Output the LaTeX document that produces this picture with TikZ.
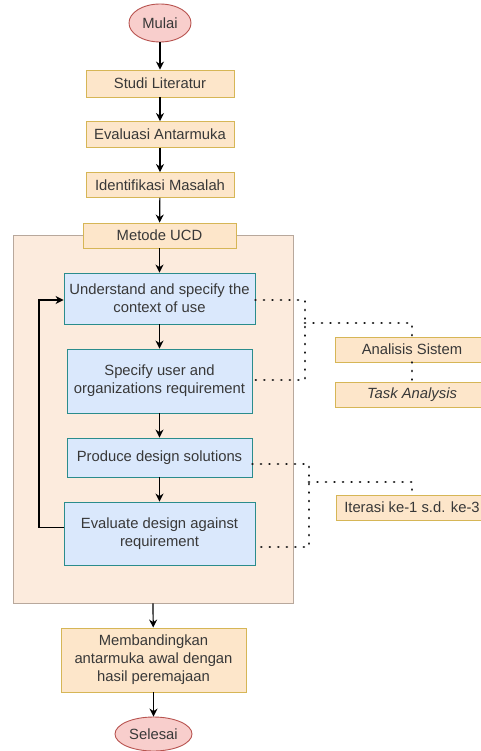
\documentclass[tikz,border=0pt]{standalone}
\usepackage{fontspec}
\setmainfont{Liberation Sans}
\usetikzlibrary{shapes.geometric,arrows.meta}
\definecolor{ofill}{HTML}{FDE6CA}
\definecolor{odraw}{HTML}{D6B656}
\definecolor{bfill}{HTML}{DAE8FC}
\definecolor{bdraw}{HTML}{2A8C8C}
\definecolor{cfill}{HTML}{FCEBDD}
\definecolor{cdraw}{HTML}{B8A89C}
\definecolor{efill}{HTML}{F8CECC}
\definecolor{edraw}{HTML}{B85450}
\tikzset{
  base/.style={inner sep=0pt, align=center, font=\fontsize{14.8}{18}\selectfont, text=black!78},
  obox/.style={base, rectangle, draw=odraw, fill=ofill, line width=0.9pt},
  bbox/.style={base, rectangle, draw=bdraw, fill=bfill, line width=0.9pt},
  term/.style={base, ellipse, draw=edraw, fill=efill, line width=0.9pt},
  cont/.style={rectangle, draw=cdraw, fill=cfill, line width=0.8pt, inner sep=0pt},
  arr/.style={-{Stealth[length=8pt,width=8pt]}, line width=1.2pt, black},
  dots/.style={line width=2.8pt, line cap=round, dash pattern=on 0.01pt off 8.5pt, black!90}
}
\begin{document}
\begin{tikzpicture}[x=1pt,y=-1pt]
\useasboundingbox (0,0) rectangle (481,751);
\fill[white] (0,0) rectangle (481,751);
% container
\node[cont, minimum width=280pt, minimum height=368pt] (ucd) at (153,419) {};
% main flow
\node[term, minimum width=62pt, minimum height=38pt] (mulai) at (160,23) {Mulai};
\node[obox, minimum width=148pt, minimum height=27pt] (studi) at (160,83.5) {Studi Literatur};
\node[obox, minimum width=148pt, minimum height=26pt] (evalu) at (160,134.5) {Evaluasi Antarmuka};
\node[obox, minimum width=148pt, minimum height=25pt] (ident) at (160,185) {Identifikasi Masalah};
\node[obox, minimum width=153pt, minimum height=25pt] (metode) at (159.5,235.5) {Metode UCD};
\node[bbox, minimum width=191pt, minimum height=51pt] (under) at (159.5,298.5) {Understand and specify the\\context of use};
\node[bbox, minimum width=185pt, minimum height=64pt] (spec) at (159.5,381) {Specify user and\\organizations requirement};
\node[bbox, minimum width=185pt, minimum height=39pt] (prod) at (159.5,457.5) {Produce design solutions};
\node[bbox, minimum width=191pt, minimum height=63pt] (evald) at (159.5,533.5) {Evaluate design against\\requirement};
\node[obox, minimum width=185pt, minimum height=64pt] (memb) at (153.5,660) {Membandingkan\\antarmuka awal dengan\\hasil peremajaan};
\node[term, minimum width=77pt, minimum height=34pt] (selesai) at (153.5,734) {Selesai};
% side boxes
\node[obox, minimum width=154pt, minimum height=25pt] (anal) at (412,349.5) {Analisis Sistem};
\node[obox, minimum width=154pt, minimum height=25pt] (task) at (412,394.5) {\itshape Task Analysis};
\node[obox, minimum width=152pt, minimum height=25pt] (iter) at (412,507.5) {Iterasi ke-1 s.d. ke-3};
% arrows
\draw[arr] (mulai) -- (studi);
\draw[arr] (studi) -- (evalu);
\draw[arr] (evalu) -- (ident);
\draw[arr] (ident) -- (metode);
\draw[arr] (metode) -- (under);
\draw[arr] (under) -- (spec);
\draw[arr] (spec) -- (prod);
\draw[arr] (prod) -- (evald);
\draw[arr] (ucd.south) -- (memb);
\draw[arr] (memb) -- (selesai);
\draw[arr] ([yshift=6pt]evald.west) -| (39,300) -- (under.west |- 0,300);
% dotted links
\coordinate (j1) at (305,323);
\coordinate (j2) at (309,482);
\draw[dots] (under.east |- 0,300) -| (305,380) -- (spec.east |- 0,380);
\draw[dots] (j1) -| (anal.north);
\draw[dots] (anal) -- (task);
\draw[dots] (prod.east |- 0,464) -| (309,547) -- (evald.east |- 0,547);
\draw[dots] (j2) -| (iter.north);
\end{tikzpicture}
\end{document}
